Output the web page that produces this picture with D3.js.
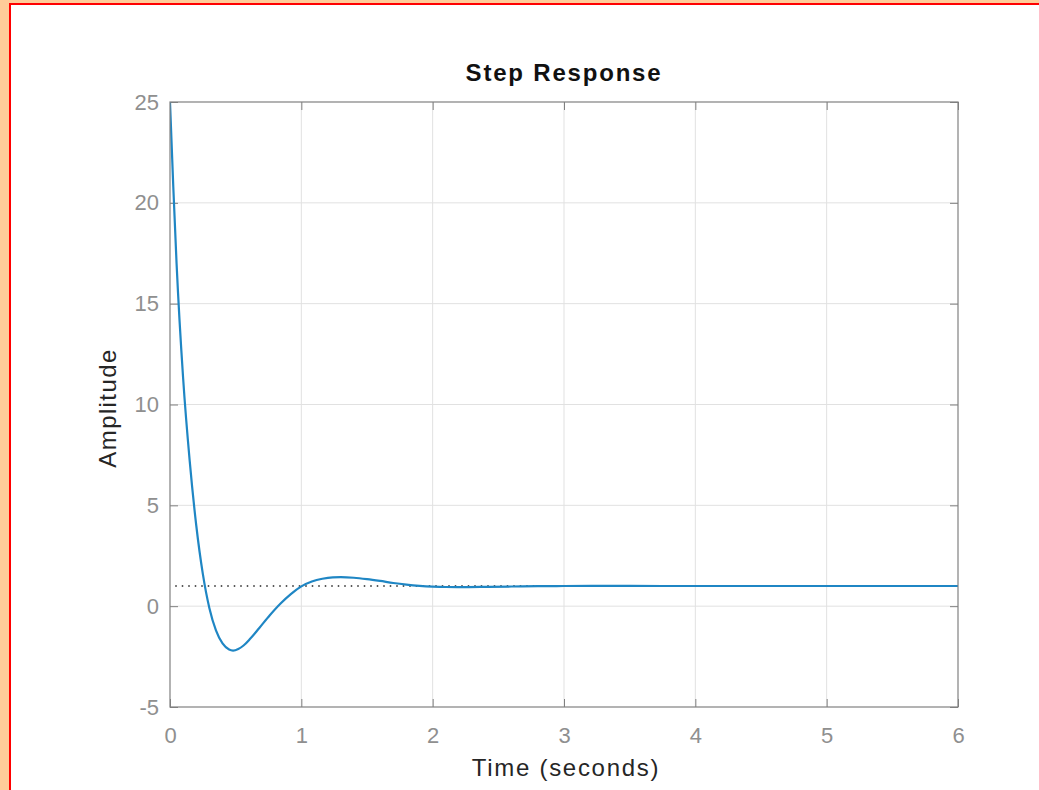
<!DOCTYPE html>
<html>
<head>
<meta charset="utf-8">
<script src="https://d3js.org/d3.v7.min.js"></script>
<style>
  html, body { margin: 0; padding: 0; background: #FFCC99; }
  svg { display: block; }
</style>
</head>
<body>
<svg id="chart" width="1039" height="790"></svg>
<script>
// ---- data ----
const timeValues = [0, 0.025, 0.05, 0.1, 0.15, 0.2, 0.25, 0.3, 0.35, 0.4, 0.45, 0.48, 0.52, 0.56, 0.61, 0.68, 0.76, 0.84, 0.92, 1.0, 1.08, 1.16, 1.24, 1.3, 1.4, 1.5, 1.6, 1.7, 1.8, 1.9, 2.0, 2.1, 2.25, 2.4, 2.6, 2.8, 3.0, 3.5, 4.0, 5.0, 6.0];
const amplitudeValues = [25, 20.8, 17.0, 11.3, 7.2, 4.0, 1.6, -0.1, -1.2, -1.85, -2.15, -2.2, -2.12, -1.95, -1.62, -1.08, -0.45, 0.12, 0.6, 0.98, 1.22, 1.36, 1.43, 1.44, 1.41, 1.34, 1.25, 1.15, 1.07, 1.01, 0.97, 0.95, 0.945, 0.955, 0.975, 0.99, 1.0, 1.002, 1.0, 1.0, 1.0];
const steadyState = 1;
const xTicks = [0, 1, 2, 3, 4, 5, 6];
const yTicks = [-5, 0, 5, 10, 15, 20, 25];
const titleText = "Step Response";
const xLabelText = "Time (seconds)";
const yLabelText = "Amplitude";

// ---- layout ----
const svg = d3.select("#chart");
const W = 1039, H = 790;
const plot = { left: 170, right: 958, top: 102, bottom: 707 };

// frame: peach background, red border top/left, white page
svg.append("rect").attr("x", 0).attr("y", 0).attr("width", W).attr("height", H).attr("fill", "#FFCC99");
svg.append("rect").attr("x", 9).attr("y", 3).attr("width", W - 9).attr("height", H - 3).attr("fill", "#FF0000");
svg.append("rect").attr("x", 11).attr("y", 5).attr("width", W - 11).attr("height", H - 5).attr("fill", "#ffffff");

const x = d3.scaleLinear().domain([0, 6]).range([plot.left, plot.right]);
const y = d3.scaleLinear().domain([-5, 25]).range([plot.bottom, plot.top]);

const font = "'Liberation Sans', Arial, Helvetica, sans-serif";
const fmt = d => String(d);

// grid
const grid = svg.append("g");
grid.selectAll("line.vx").data(xTicks.slice(1, -1)).enter().append("line")
  .attr("x1", d => x(d)).attr("x2", d => x(d))
  .attr("y1", plot.top).attr("y2", plot.bottom)
  .attr("stroke", "#e1e1e1").attr("stroke-width", 1);
grid.selectAll("line.hy").data(yTicks.slice(1, -1)).enter().append("line")
  .attr("x1", plot.left).attr("x2", plot.right)
  .attr("y1", d => y(d)).attr("y2", d => y(d))
  .attr("stroke", "#e1e1e1").attr("stroke-width", 1);

// axes (ticks pointing inward)
const axisColor = "#808080";
const xAxis = svg.append("g").attr("transform", `translate(0,${plot.bottom})`)
  .call(d3.axisBottom(x).tickValues(xTicks).tickSize(-8).tickPadding(20).tickFormat(fmt));
const yAxis = svg.append("g").attr("transform", `translate(${plot.left},0)`)
  .call(d3.axisLeft(y).tickValues(yTicks).tickSize(-8).tickPadding(11).tickFormat(fmt));
[xAxis, yAxis].forEach(g => {
  g.select(".domain").remove();
  g.selectAll(".tick line").attr("stroke", axisColor).attr("stroke-width", 1);
  g.selectAll(".tick text").attr("fill", "#8f8f8f").style("font-family", font).style("font-size", "22px");
});
// top/right ticks (mirror)
svg.append("g").attr("transform", `translate(0,${plot.top})`)
  .call(d3.axisTop(x).tickValues(xTicks).tickSize(-8).tickFormat(""))
  .call(g => { g.select(".domain").remove(); g.selectAll(".tick line").attr("stroke", axisColor); });
svg.append("g").attr("transform", `translate(${plot.right},0)`)
  .call(d3.axisRight(y).tickValues(yTicks).tickSize(-8).tickFormat(""))
  .call(g => { g.select(".domain").remove(); g.selectAll(".tick line").attr("stroke", axisColor); });

// steady-state dotted line
svg.append("line")
  .attr("x1", x(0.04)).attr("x2", x(6))
  .attr("y1", y(steadyState)).attr("y2", y(steadyState))
  .attr("stroke", "#222").attr("stroke-width", 1.4).attr("stroke-dasharray", "1.5,5");

// response curve
const pts = timeValues.map((t, i) => [t, amplitudeValues[i]]);
svg.append("clipPath").attr("id", "pclip").append("rect")
  .attr("x", plot.left).attr("y", plot.top - 1).attr("width", plot.right - plot.left).attr("height", plot.bottom - plot.top + 1);
svg.append("path")
  .datum(pts)
  .attr("clip-path", "url(#pclip)")
  .attr("fill", "none")
  .attr("stroke", "#1f86c4")
  .attr("stroke-width", 2.2)
  .attr("d", d3.line().x(d => x(d[0])).y(d => y(d[1])).curve(d3.curveMonotoneX));

// box
svg.append("rect")
  .attr("x", plot.left).attr("y", plot.top)
  .attr("width", plot.right - plot.left).attr("height", plot.bottom - plot.top)
  .attr("fill", "none").attr("stroke", axisColor).attr("stroke-width", 1.2);

// title and labels
svg.append("text").attr("x", 564).attr("y", 81)
  .attr("text-anchor", "middle").attr("fill", "#111")
  .style("font-family", font).style("font-size", "24px").style("font-weight", "bold")
  .style("letter-spacing", "1.8px")
  .text(titleText);
svg.append("text").attr("x", 566).attr("y", 776)
  .attr("text-anchor", "middle").attr("fill", "#262626")
  .style("font-family", font).style("font-size", "24px")
  .style("letter-spacing", "1.7px")
  .text(xLabelText);
svg.append("text")
  .attr("transform", `translate(116,408) rotate(-90)`)
  .attr("text-anchor", "middle").attr("fill", "#262626")
  .style("font-family", font).style("font-size", "24px")
  .style("letter-spacing", "1.4px")
  .text(yLabelText);
</script>
</body>
</html>
